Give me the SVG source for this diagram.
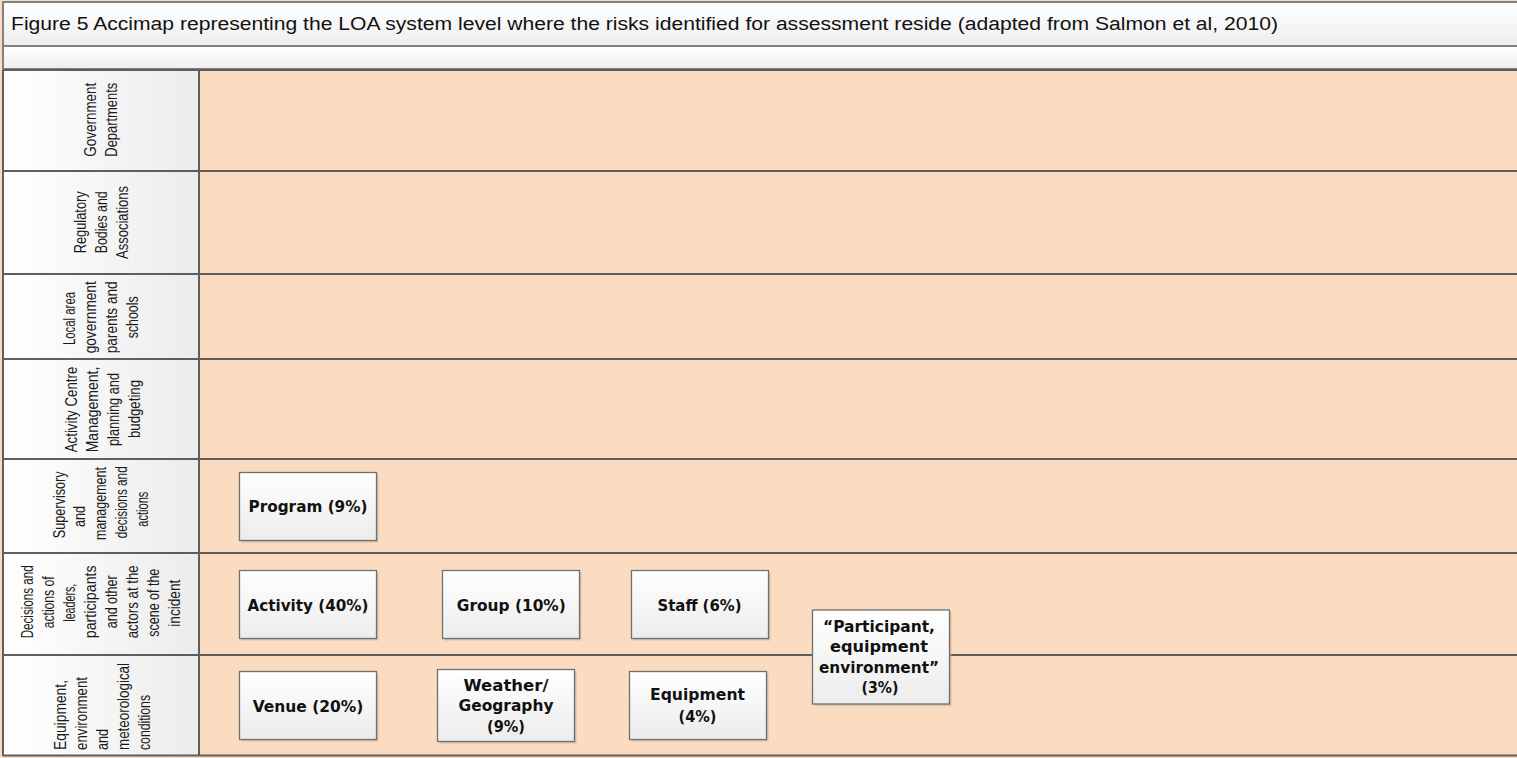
<svg xmlns="http://www.w3.org/2000/svg" width="1517" height="758" viewBox="0 0 1517 758">
  <defs>
    <linearGradient id="barFill" x1="0" y1="0" x2="0" y2="1">
      <stop offset="0" stop-color="#ffffff"/>
      <stop offset="1" stop-color="#eeeeee"/>
    </linearGradient>
    <linearGradient id="cellFill" x1="0" y1="0" x2="1" y2="0">
      <stop offset="0" stop-color="#ffffff"/>
      <stop offset="1" stop-color="#ececec"/>
    </linearGradient>
    <linearGradient id="boxFill" x1="0" y1="0" x2="0" y2="1">
      <stop offset="0" stop-color="#ffffff"/>
      <stop offset="1" stop-color="#ececec"/>
    </linearGradient>
  </defs>
  <style>
    .lane { fill: #fcdcc1; }
    .cell { fill: url(#cellFill); }
    .bar { fill: url(#barFill); stroke: #808080; stroke-width: 2; }
    .rule { stroke: #5e5e5e; stroke-width: 2; fill: none; }
    .title { font-family: "Liberation Sans", Arial, sans-serif; font-size: 18px; fill: #111111; }
    .lbl { font-family: "Liberation Sans", Arial, sans-serif; font-size: 16px; fill: #1a1a1a; }
    .box { fill: url(#boxFill); stroke: #6f6f6f; stroke-width: 1.3; }
    .shadow { fill: #b8a99c; opacity: 0.55; }
    .btxt { font-family: "DejaVu Sans", Verdana, sans-serif; font-weight: bold; font-size: 15px; fill: #111111; text-anchor: middle; }
  </style>

  <!-- page background -->
  <rect x="0" y="0" width="1517" height="758" fill="#fcdcc1"/>

  <!-- title bars -->
  <g id="title-bar">
    <rect class="bar" x="3" y="2" width="1520" height="44"/>
    <rect class="bar" x="3" y="46" width="1520" height="23"/>
    <text class="title" x="11" y="29.5" textLength="1267" lengthAdjust="spacingAndGlyphs">Figure 5 Accimap representing the LOA system level where the risks identified for assessment reside (adapted from Salmon et al, 2010)</text>
  </g>

  <!-- swim lanes -->
  <g id="lanes">
    <rect class="lane" x="199" y="70" width="1320" height="686"/>
    <rect class="cell" x="3" y="70" width="196" height="686"/>
  </g>

  <g id="lane-rules">
    <line class="rule" x1="3" y1="70" x2="1517" y2="70"/>
    <line class="rule" x1="3" y1="171" x2="1517" y2="171"/>
    <line class="rule" x1="3" y1="274" x2="1517" y2="274"/>
    <line class="rule" x1="3" y1="359" x2="1517" y2="359"/>
    <line class="rule" x1="3" y1="459" x2="1517" y2="459"/>
    <line class="rule" x1="3" y1="553" x2="1517" y2="553"/>
    <line class="rule" x1="3" y1="655" x2="1517" y2="655"/>
    <line class="rule" x1="3" y1="755.5" x2="1517" y2="755.5"/>
    <line class="rule" x1="3" y1="70" x2="3" y2="756"/>
    <line class="rule" x1="199" y1="70" x2="199" y2="756"/>
  </g>

  <!-- lane headings (rotated) -->
  <g id="lane-government" class="lbl">
    <text transform="translate(96,156.7) rotate(-90)" textLength="74" lengthAdjust="spacingAndGlyphs">Government</text>
    <text transform="translate(117,156.7) rotate(-90)" textLength="74" lengthAdjust="spacingAndGlyphs">Departments</text>
  </g>
  <g id="lane-regulatory" class="lbl">
    <text transform="translate(86,253.3) rotate(-90)" textLength="62" lengthAdjust="spacingAndGlyphs">Regulatory</text>
    <text transform="translate(107,253.3) rotate(-90)" textLength="62" lengthAdjust="spacingAndGlyphs">Bodies and</text>
    <text transform="translate(128,259) rotate(-90)" textLength="73" lengthAdjust="spacingAndGlyphs">Associations</text>
  </g>
  <g id="lane-local" class="lbl">
    <text transform="translate(75,345) rotate(-90)" textLength="53" lengthAdjust="spacingAndGlyphs">Local area</text>
    <text transform="translate(96,353.3) rotate(-90)" textLength="72" lengthAdjust="spacingAndGlyphs">government</text>
    <text transform="translate(117,353.3) rotate(-90)" textLength="72" lengthAdjust="spacingAndGlyphs">parents and</text>
    <text transform="translate(138,338.3) rotate(-90)" textLength="42" lengthAdjust="spacingAndGlyphs">schools</text>
  </g>
  <g id="lane-centre" class="lbl">
    <text transform="translate(77,452.3) rotate(-90)" textLength="85.6" lengthAdjust="spacingAndGlyphs">Activity Centre</text>
    <text transform="translate(98,452.3) rotate(-90)" textLength="85.6" lengthAdjust="spacingAndGlyphs">Management,</text>
    <text transform="translate(119,446) rotate(-90)" textLength="73" lengthAdjust="spacingAndGlyphs">planning and</text>
    <text transform="translate(140,438) rotate(-90)" textLength="58" lengthAdjust="spacingAndGlyphs">budgeting</text>
  </g>
  <g id="lane-supervisory" class="lbl">
    <text transform="translate(65,538.3) rotate(-90)" textLength="67" lengthAdjust="spacingAndGlyphs">Supervisory</text>
    <text transform="translate(85,527) rotate(-90)" textLength="21" lengthAdjust="spacingAndGlyphs">and</text>
    <text transform="translate(106,540) rotate(-90)" textLength="73" lengthAdjust="spacingAndGlyphs">management</text>
    <text transform="translate(127,538.3) rotate(-90)" textLength="72" lengthAdjust="spacingAndGlyphs">decisions and</text>
    <text transform="translate(148,526.7) rotate(-90)" textLength="35" lengthAdjust="spacingAndGlyphs">actions</text>
  </g>
  <g id="lane-scene" class="lbl">
    <text transform="translate(33,638.3) rotate(-90)" textLength="73" lengthAdjust="spacingAndGlyphs">Decisions and</text>
    <text transform="translate(54,628.3) rotate(-90)" textLength="52" lengthAdjust="spacingAndGlyphs">actions of</text>
    <text transform="translate(75,621.7) rotate(-90)" textLength="38" lengthAdjust="spacingAndGlyphs">leaders,</text>
    <text transform="translate(96,638.3) rotate(-90)" textLength="73" lengthAdjust="spacingAndGlyphs">participants</text>
    <text transform="translate(117,628.3) rotate(-90)" textLength="53" lengthAdjust="spacingAndGlyphs">and other</text>
    <text transform="translate(138,638.3) rotate(-90)" textLength="73" lengthAdjust="spacingAndGlyphs">actors at the</text>
    <text transform="translate(159,636.7) rotate(-90)" textLength="68" lengthAdjust="spacingAndGlyphs">scene of the</text>
    <text transform="translate(180,626.7) rotate(-90)" textLength="47" lengthAdjust="spacingAndGlyphs">incident</text>
  </g>
  <g id="lane-equipment" class="lbl">
    <text transform="translate(66,750) rotate(-90)" textLength="70" lengthAdjust="spacingAndGlyphs">Equipment,</text>
    <text transform="translate(87,750) rotate(-90)" textLength="73" lengthAdjust="spacingAndGlyphs">environment</text>
    <text transform="translate(108,750) rotate(-90)" textLength="21" lengthAdjust="spacingAndGlyphs">and</text>
    <text transform="translate(129,750) rotate(-90)" textLength="87" lengthAdjust="spacingAndGlyphs">meteorological</text>
    <text transform="translate(150,750) rotate(-90)" textLength="55" lengthAdjust="spacingAndGlyphs">conditions</text>
  </g>

  <!-- risk factor boxes -->
  <g id="node-program">
    <rect class="shadow" x="241.5" y="474.5" width="137" height="68"/>
    <rect class="box" x="239.5" y="472.5" width="137" height="68"/>
    <text class="btxt" x="308" y="512.3" textLength="119" lengthAdjust="spacingAndGlyphs">Program (9%)</text>
  </g>
  <g id="node-activity">
    <rect class="shadow" x="241.5" y="572.5" width="137" height="68"/>
    <rect class="box" x="239.5" y="570.5" width="137" height="68"/>
    <text class="btxt" x="308" y="610.7" textLength="121" lengthAdjust="spacingAndGlyphs">Activity (40%)</text>
  </g>
  <g id="node-group">
    <rect class="shadow" x="444.5" y="572.5" width="137" height="68"/>
    <rect class="box" x="442.5" y="570.5" width="137" height="68"/>
    <text class="btxt" x="511.3" y="610.7" textLength="109" lengthAdjust="spacingAndGlyphs">Group (10%)</text>
  </g>
  <g id="node-staff">
    <rect class="shadow" x="633.5" y="572.5" width="137" height="68"/>
    <rect class="box" x="631.5" y="570.5" width="137" height="68"/>
    <text class="btxt" x="699.5" y="610.7" textLength="84" lengthAdjust="spacingAndGlyphs">Staff (6%)</text>
  </g>
  <g id="node-venue">
    <rect class="shadow" x="241.5" y="673.5" width="137" height="68"/>
    <rect class="box" x="239.5" y="671.5" width="137" height="68"/>
    <text class="btxt" x="308" y="711.7" textLength="110.7" lengthAdjust="spacingAndGlyphs">Venue (20%)</text>
  </g>
  <g id="node-weather">
    <rect class="shadow" x="439.5" y="671.5" width="137" height="72"/>
    <rect class="box" x="437.5" y="669.5" width="137" height="72"/>
    <text class="btxt" x="506" y="690.7" textLength="85" lengthAdjust="spacingAndGlyphs">Weather/</text>
    <text class="btxt" x="506" y="710.7" textLength="95" lengthAdjust="spacingAndGlyphs">Geography</text>
    <text class="btxt" x="506" y="731.7" textLength="38" lengthAdjust="spacingAndGlyphs">(9%)</text>
  </g>
  <g id="node-equipment">
    <rect class="shadow" x="631.5" y="673.5" width="137" height="68"/>
    <rect class="box" x="629.5" y="671.5" width="137" height="68"/>
    <text class="btxt" x="697.5" y="700" textLength="95" lengthAdjust="spacingAndGlyphs">Equipment</text>
    <text class="btxt" x="697.5" y="721.7" textLength="38" lengthAdjust="spacingAndGlyphs">(4%)</text>
  </g>
  <g id="node-participant">
    <rect class="shadow" x="814.5" y="612" width="137" height="94"/>
    <rect class="box" x="812.5" y="610" width="137" height="94"/>
    <text class="btxt" x="879" y="631.7" textLength="112" lengthAdjust="spacingAndGlyphs">“Participant,</text>
    <text class="btxt" x="879" y="651.7" textLength="98" lengthAdjust="spacingAndGlyphs">equipment</text>
    <text class="btxt" x="879" y="672.7" textLength="120" lengthAdjust="spacingAndGlyphs">environment”</text>
    <text class="btxt" x="880" y="693.3" textLength="37" lengthAdjust="spacingAndGlyphs">(3%)</text>
  </g>

  <!-- no connectors are drawn between the factors -->
  <g id="connectors"/>
</svg>
